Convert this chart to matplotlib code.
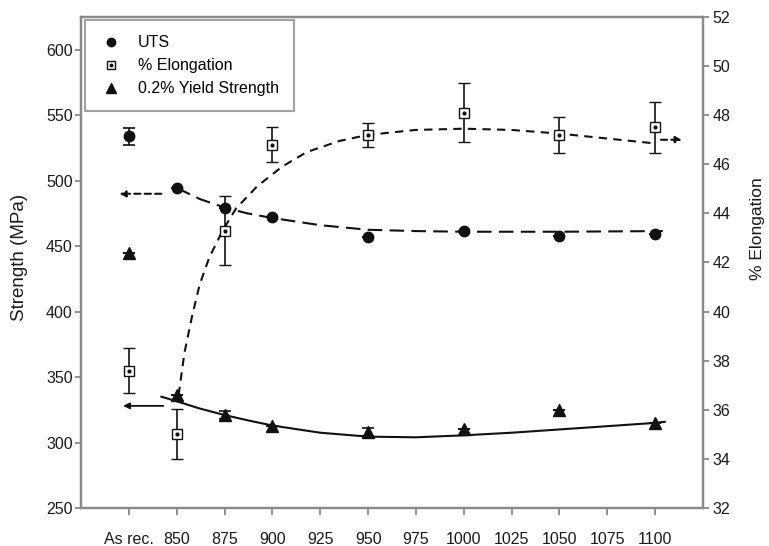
import numpy as np
import matplotlib
matplotlib.use('Agg')
import matplotlib.pyplot as plt
from matplotlib.lines import Line2D

plt.rcParams['font.family'] = ['Liberation Sans', 'DejaVu Sans']

# temperatures (825 stands for the "As rec." condition)
temp = [825, 850, 875, 900, 950, 1000, 1050, 1100]
tick_pos = [825, 850, 875, 900, 925, 950, 975, 1000, 1025, 1050, 1075, 1100]
tick_lab = ['As rec.', '850', '875', '900', '925', '950', '975', '1000', '1025', '1050', '1075', '1100']

uts = [534, 494.5, 479, 472.5, 457, 461.5, 458, 459]
uts_err = [6.5, 0, 0, 0, 0, 0, 0, 0]
ys = [445, 336, 321, 313, 308, 310, 325, 315]
ys_err = [0, 0, 3, 0, 3, 0, 0, 0]
elong = [37.6, 35.0, 43.3, 46.8, 47.2, 48.1, 47.2, 47.5]
elong_err = [0.92, 1.02, 1.4, 0.7, 0.5, 1.2, 0.72, 1.02]

# trend lines
uts_fit_x = [850, 862, 875, 887, 900, 925, 950, 975, 1000, 1050, 1104]
uts_fit_y = [494.5, 486, 479.5, 475, 471.5, 466, 462.5, 461.5, 461, 461, 461.5]
ys_fit_x = [842, 850, 862, 875, 887, 900, 925, 950, 975, 1000, 1025, 1050, 1075, 1100, 1105]
ys_fit_y = [335, 331.5, 326, 321, 317, 313, 307.5, 304.5, 304, 305.5, 307.5, 310, 312.5, 315, 315.8]
el_fit_x = [851, 854, 858, 862, 867, 874, 881, 892, 905, 918, 935, 950, 975, 1000, 1025, 1050, 1075, 1100]
el_fit_y = [36.6, 38.3, 39.8, 41.1, 42.2, 43.3, 44.2, 45.1, 45.9, 46.5, 46.95, 47.2, 47.4, 47.45,
            47.4, 47.25, 47.05, 46.85]

# arrows pointing at the axis each curve belongs to: (x_from, x_to, y)
uts_arrow = (842, 820, 490)
ys_arrow = (843, 822, 328)
el_arrow = (1103, 1114, 47.0)

grey = '#8a8a8a'
ink = '#111111'
txt = '#1a1a1a'

fig = plt.figure(figsize=(7.69, 5.46), dpi=100)
ax = fig.add_axes([81 / 769, 1 - 508 / 546, 622 / 769, 491 / 546])
ax2 = ax.twinx()

ax.plot(uts_fit_x, uts_fit_y, color=ink, lw=1.5, dashes=(7, 3.5))
ax.plot(ys_fit_x, ys_fit_y, color=ink, lw=1.5)
ax2.plot(el_fit_x, el_fit_y, color=ink, lw=1.5, dashes=(4, 3))

ax.errorbar(temp, uts, yerr=uts_err, fmt='o', color=ink, ms=7.5, capsize=4, elinewidth=1.2, capthick=1.2)
ax.errorbar(temp, ys, yerr=ys_err, fmt='^', color=ink, ms=8, capsize=4, elinewidth=1.2, capthick=1.2)
ax2.errorbar(temp, elong, yerr=elong_err, fmt='s', color=ink, mfc='white', mec=ink, mew=1.0, ms=7,
             capsize=4.5, elinewidth=1.2, capthick=1.2, zorder=3)
ax2.plot(temp, elong, 'o', color=ink, ms=2, zorder=4)

ax.annotate('', xy=(uts_arrow[1], uts_arrow[2]), xytext=(uts_arrow[0], uts_arrow[2]),
            arrowprops=dict(arrowstyle='-|>', color=ink, lw=1.5, ls=(0, (3, 2)), mutation_scale=9,
                            shrinkA=0, shrinkB=0))
ax.annotate('', xy=(ys_arrow[1], ys_arrow[2]), xytext=(ys_arrow[0], ys_arrow[2]),
            arrowprops=dict(arrowstyle='-|>', color=ink, lw=1.3, mutation_scale=9,
                            shrinkA=0, shrinkB=0))
ax2.annotate('', xy=(el_arrow[1], el_arrow[2]), xytext=(el_arrow[0], el_arrow[2]),
             arrowprops=dict(arrowstyle='-|>', color=ink, lw=1.5, ls=(0, (3, 2)), mutation_scale=9,
                             shrinkA=0, shrinkB=0))

ax.set_xlim(800, 1125)
ax.set_ylim(250, 625)
ax2.set_ylim(32, 52)
ax.set_xticks(tick_pos)
ax.set_xticklabels(tick_lab)
ax.set_yticks(np.arange(250, 601, 50))
ax2.set_yticks(np.arange(32, 53, 2))

for a in (ax, ax2):
    for s in a.spines.values():
        s.set_color(grey)
        s.set_linewidth(1.6)
ax.tick_params(axis='x', direction='out', length=5, width=1.3, color=grey, pad=12, labelsize=11.5, labelcolor=txt)
ax.tick_params(axis='y', direction='out', length=4, width=1.3, color=grey, pad=2, labelsize=11.5, labelcolor=txt)
ax2.tick_params(axis='y', direction='out', length=4, width=1.3, color=grey, pad=3, labelsize=11.5, labelcolor=txt)

ax.set_ylabel('Strength (MPa)', fontsize=13.5, color=txt)
ax2.set_ylabel('% Elongation', fontsize=12.5, color=txt)
ax.yaxis.set_label_coords(-0.086, 0.511)
ax2.yaxis.set_label_coords(1.0756, 0.570)

handles = [
    Line2D([], [], ls='none', marker='o', color=ink, ms=6),
    (Line2D([], [], ls='none', marker='s', mfc='white', mec=ink, mew=1.0, ms=6),
     Line2D([], [], ls='none', marker='o', color=ink, ms=1.8)),
    Line2D([], [], ls='none', marker='^', color=ink, ms=6.5),
]
leg = ax2.legend(handles, ['UTS', '% Elongation', '0.2% Yield Strength'], loc='upper left',
                 bbox_to_anchor=(0.006, 0.994), borderaxespad=0, fontsize=11.5, frameon=True,
                 fancybox=False, edgecolor=grey, borderpad=0.95, handlelength=1.4, handletextpad=1.0,
                 labelspacing=0.5)
leg.get_frame().set_linewidth(1.5)

fig.savefig('out.png', dpi=100)
